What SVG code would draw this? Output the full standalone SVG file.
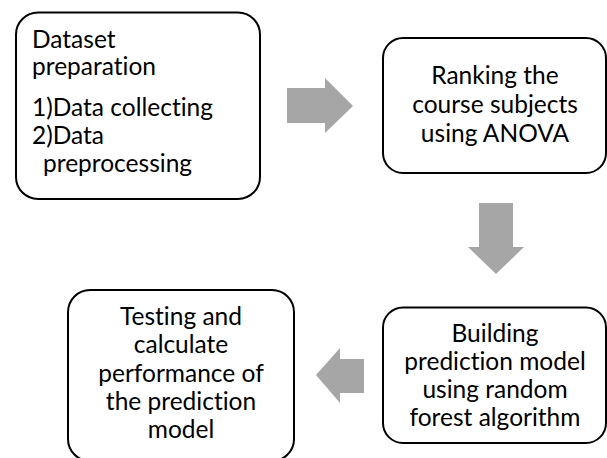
<svg xmlns="http://www.w3.org/2000/svg" width="607" height="458" viewBox="0 0 607 458">
<style>
.box{fill:#fff;stroke:#000;stroke-width:2}
.arrow{fill:#a6a6a6;stroke:none}
text{font-family:Lato,"Liberation Sans",sans-serif;font-size:24.5px;fill:#000;font-variant-ligatures:none;font-feature-settings:"liga" 0,"dlig" 0}
.c{text-anchor:middle}
</style>
<rect width="607" height="458" fill="#fff"/>
<g id="connectors">
<polygon class="arrow" points="287,88 325,88 325,78 353,106 325,133 325,123 287,123"/>
<polygon class="arrow" points="479,203 513,203 513,247 524,247 496,274 468,247 479,247"/>
<polygon class="arrow" points="364,359 340,359 340,348 316,375 340,403 340,393 364,393"/>
</g>
<g id="node1">
<rect class="box" x="16" y="12.5" width="244" height="186.5" rx="22"/>
<text x="32" y="48">Dataset</text>
<text x="32" y="75">preparation</text>
<text x="32" y="116">1)Data collecting</text>
<text x="32" y="144">2)Data</text>
<text x="43" y="172">preprocessing</text>
</g>
<g id="node2">
<rect class="box" x="383" y="38" width="223" height="135" rx="20"/>
<text class="c" x="495" y="84">Ranking the</text>
<text class="c" x="495" y="113">course subjects</text>
<text class="c" x="495" y="142">using ANOVA</text>
</g>
<g id="node3">
<rect class="box" x="383" y="307.5" width="223" height="135.5" rx="20"/>
<text class="c" x="495" y="342">Building</text>
<text class="c" x="495" y="370">prediction model</text>
<text class="c" x="495" y="398">using random</text>
<text class="c" x="495" y="426">forest algorithm</text>
</g>
<g id="node4">
<rect class="box" x="68" y="290" width="226" height="171" rx="22"/>
<text class="c" x="181" y="325">Testing and</text>
<text class="c" x="181" y="353">calculate</text>
<text class="c" x="181" y="382">performance of</text>
<text class="c" x="181" y="410">the prediction</text>
<text class="c" x="181" y="438">model</text>
</g>
</svg>
